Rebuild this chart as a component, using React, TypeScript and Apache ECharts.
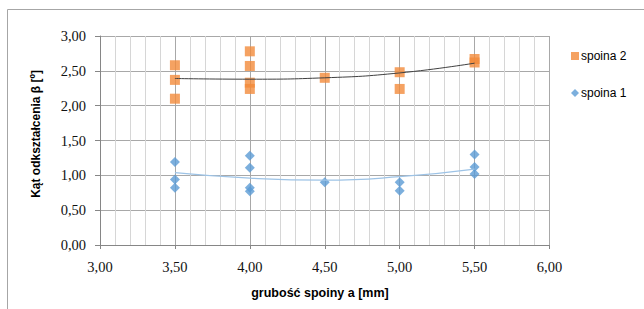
import React, { useEffect, useRef } from "react";
import * as echarts from "echarts";

const xTicks = [3.0, 3.5, 4.0, 4.5, 5.0, 5.5, 6.0];
const yTicks = [0, 0.5, 1.0, 1.5, 2.0, 2.5, 3.0];

// spoina 2 (orange squares) [x, y]
const spoina2: [number, number][] = [
  [3.5, 2.58], [3.5, 2.37], [3.5, 2.1],
  [4.0, 2.78], [4.0, 2.57], [4.0, 2.33], [4.0, 2.24],
  [4.5, 2.4],
  [5.0, 2.48], [5.0, 2.24],
  [5.5, 2.67], [5.5, 2.62],
];
// spoina 1 (blue diamonds)
const spoina1: [number, number][] = [
  [3.5, 1.19], [3.5, 0.94], [3.5, 0.82],
  [4.0, 1.28], [4.0, 1.11], [4.0, 0.82], [4.0, 0.77],
  [4.5, 0.9],
  [5.0, 0.9], [5.0, 0.78],
  [5.5, 1.3], [5.5, 1.12], [5.5, 1.02],
];
// trend lines
const trend2: [number, number][] = [
  [3.5, 2.39], [4.0, 2.38], [4.5, 2.4], [5.0, 2.47], [5.5, 2.61],
];
const trend1: [number, number][] = [
  [3.5, 1.04], [4.0, 0.96], [4.5, 0.93], [5.0, 0.98], [5.5, 1.09],
];

const fmt = (v: number) => v.toFixed(2).replace(".", ",");
const serif = "Liberation Serif";
const sans = "Liberation Sans";

export default function App() {
  const ref = useRef<HTMLDivElement>(null);
  useEffect(() => {
    const chart = echarts.init(ref.current!, undefined, { renderer: "svg" });
    chart.setOption({
      animation: false,
      backgroundColor: "#ffffff",
      grid: { left: 100, top: 36, width: 449.5, height: 209 },
      xAxis: {
        type: "value",
        min: xTicks[0],
        max: xTicks[xTicks.length - 1],
        interval: 0.5,
        axisLine: { show: true, lineStyle: { color: "#868686" } },
        axisTick: { show: true, length: 4, lineStyle: { color: "#868686" } },
        minorTick: { show: false, splitNumber: 5 },
        splitLine: { show: true, lineStyle: { color: "#A8A8A8" } },
        minorSplitLine: { show: true, lineStyle: { color: "#D6D6D6" } },
        axisLabel: { formatter: fmt, margin: 14, fontFamily: serif, fontSize: 14.5, color: "#111" },
      },
      yAxis: {
        type: "value",
        min: yTicks[0],
        max: yTicks[yTicks.length - 1],
        interval: 0.5,
        axisLine: { show: true, lineStyle: { color: "#868686" } },
        axisTick: { show: true, length: 5, inside: false, lineStyle: { color: "#868686" } },
        splitLine: { show: true, lineStyle: { color: "#A8A8A8" } },
        axisLabel: { formatter: fmt, margin: 14, fontFamily: serif, fontSize: 14.5, color: "#111" },
      },
      legend: {
        orient: "vertical",
        left: 566,
        top: 45,
        itemGap: 25,
        itemWidth: 8,
        itemHeight: 8,
        textStyle: { fontFamily: sans, fontSize: 12, color: "#000", padding: [0, 0, 0, -3] },
        data: [
          { name: "spoina 2", icon: "rect" },
          { name: "spoina 1", icon: "diamond" },
        ],
      },
      graphic: [
        { type: "line", shape: { x1: 7.5, y1: 9.5, x2: 644, y2: 9.5 }, style: { stroke: "#A6A6A6", lineWidth: 1 } },
        { type: "line", shape: { x1: 7.5, y1: 9.5, x2: 7.5, y2: 309 }, style: { stroke: "#A6A6A6", lineWidth: 1 } },
        {
          type: "text",
          x: 320,
          y: 293,
          style: {
            text: "grubość spoiny a [mm]",
            fontFamily: sans,
            fontWeight: "bold",
            fontSize: 12.5,
            fill: "#000",
            align: "center",
            verticalAlign: "middle",
          },
        },
        {
          type: "text",
          x: 36,
          y: 134,
          rotation: Math.PI / 2,
          style: {
            text: "Kąt odkształcenia β [º]",
            fontFamily: sans,
            fontWeight: "bold",
            fontSize: 12,
            fill: "#000",
            align: "center",
            verticalAlign: "middle",
          },
        },
      ],
      series: [
        { name: "spoina 2", type: "scatter", data: spoina2, symbol: "rect", symbolSize: 10, itemStyle: { color: "#F28B3B" } },
        { name: "spoina 1", type: "scatter", data: spoina1, symbol: "diamond", symbolSize: 10, itemStyle: { color: "#5B9BD5" } },
        { name: "trend 2", type: "line", data: trend2, smooth: true, showSymbol: false, symbol: "none", lineStyle: { color: "#404040", width: 1 }, z: 5 },
        { name: "trend 1", type: "line", data: trend1, smooth: true, showSymbol: false, symbol: "none", lineStyle: { color: "#9DC3E6", width: 1.25 }, z: 5 },
      ],
    });
    return () => chart.dispose();
  }, []);
  return <div ref={ref} style={{ position: "absolute", left: 0, top: 0, width: 644, height: 309 }} />;
}
